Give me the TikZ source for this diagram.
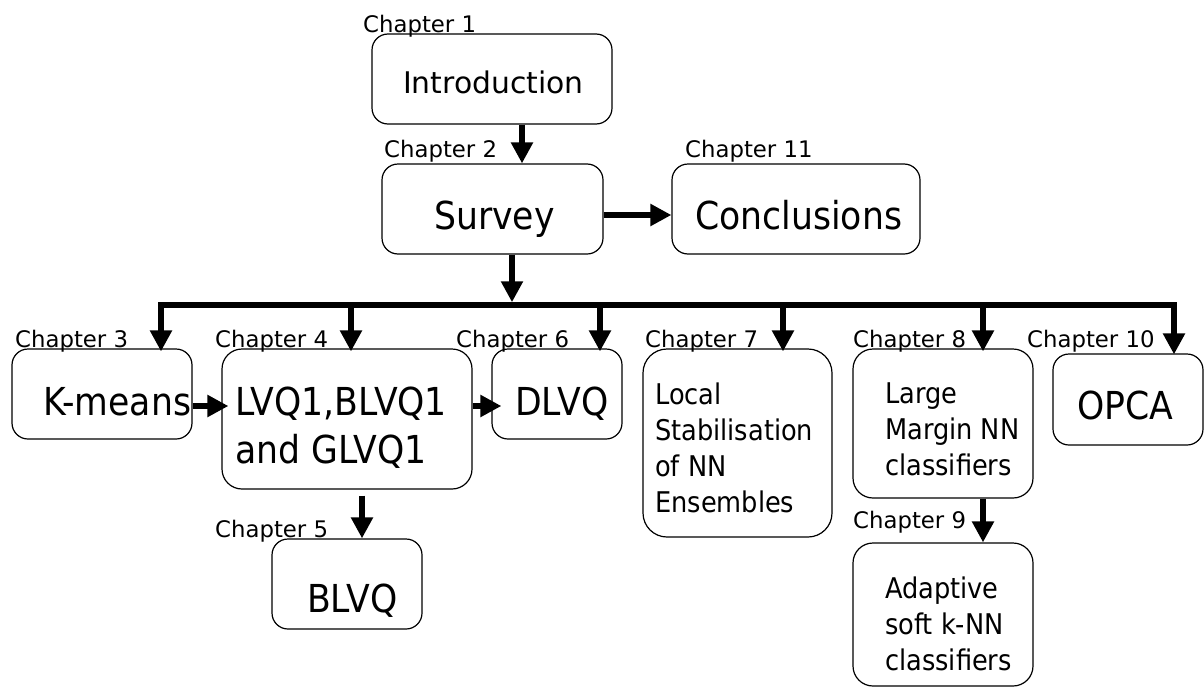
\documentclass[tikz,border=0pt]{standalone}
\usepackage{fontspec}
\setmainfont{DejaVu Sans}
\newfontfamily\cond[FakeStretch=0.9]{DejaVu Sans}
\usetikzlibrary{arrows.meta}
\newcommand{\fs}[1]{\fontsize{#1}{#1}\selectfont}
\tikzset{
  box/.style={draw, rounded corners=16pt, line width=1.2pt, inner sep=0pt},
  arr/.style={-{Triangle[width=21pt,length=21pt]}, line width=6pt},
  bus/.style={line width=5.5pt, line cap=rect},
  chap/.style={anchor=base west, inner sep=0pt, font=\fs{22.8}},
  big/.style={anchor=base west, inner sep=0pt, font=\cond\fs{38.5}},
  mid/.style={anchor=base west, inner sep=0pt, font=\cond\fs{28.5}},
}
\begin{document}
\begin{tikzpicture}[x=1pt, y=-1pt]
\useasboundingbox (0,0) rectangle (1204,688);
% boxes
\node[box, minimum width=240pt, minimum height=90pt] (intro) at (492,79) {};
\node[box, minimum width=221pt, minimum height=90pt] (survey) at (492.5,209) {};
\node[box, minimum width=248pt, minimum height=90pt] (concl) at (796,209) {};
\node[box, minimum width=180pt, minimum height=90pt] (kmeans) at (102,394) {};
\node[box, minimum width=250pt, minimum height=140pt, rounded corners=20pt] (lvq) at (347,419) {};
\node[box, minimum width=130pt, minimum height=90pt] (dlvq) at (557,394) {};
\node[box, minimum width=189pt, minimum height=188pt, rounded corners=24pt] (local) at (737.5,443) {};
\node[box, minimum width=180pt, minimum height=149pt, rounded corners=20pt] (large) at (943,423.5) {};
\node[box, minimum width=150pt, minimum height=91pt] (opca) at (1128,399.5) {};
\node[box, minimum width=150pt, minimum height=90pt] (blvq) at (347,584) {};
\node[box, minimum width=180pt, minimum height=143pt, rounded corners=20pt] (adapt) at (943,614.5) {};
% box texts
\node[anchor=base west, inner sep=0pt, font=\fs{29.8}] (tintro) at (403,93) {Introduction};
\node[big] (tsurvey) at (434,229) {Survey};
\node[big] (tconcl) at (695,229) {Conclusions};
\node[big] (tkmeans) at (43,415) {K-means};
\node[big] (tlvqa) at (235,415) {LVQ1,BLVQ1};
\node[big] (tlvqb) at (235,463) {and GLVQ1};
\node[big] (tdlvq) at (515,415) {DLVQ};
\node[big] (topca) at (1077,419) {OPCA};
\node[big] (tblvq) at (307,612) {BLVQ};
\node[mid] (tloca) at (655,404) {Local};
\node[mid] (tlocb) at (655,440) {Stabilisation};
\node[mid] (tlocc) at (655,476) {of NN};
\node[mid] (tlocd) at (655,512) {Ensembles};
\node[mid] (tlarga) at (885,403) {Large};
\node[mid] (tlargb) at (885,439) {Margin NN};
\node[mid] (tlargc) at (885,475) {classifiers};
\node[mid] (tadapa) at (885,598) {Adaptive};
\node[mid] (tadapb) at (885,634) {soft k-NN};
\node[mid] (tadapc) at (885,670) {classifiers};
% chapter labels
\node[chap] (c1) at (363,32) {Chapter 1};
\node[chap] (c2) at (384,157) {Chapter 2};
\node[chap] (c11) at (685,157) {Chapter 11};
\node[chap] (c3) at (15,347) {Chapter 3};
\node[chap] (c4) at (215,347) {Chapter 4};
\node[chap] (c6) at (456,347) {Chapter 6};
\node[chap] (c7) at (645,347) {Chapter 7};
\node[chap] (c8) at (853,347) {Chapter 8};
\node[chap] (c10) at (1027,347) {Chapter 10};
\node[chap] (c5) at (215,537) {Chapter 5};
\node[chap] (c9) at (853,528) {Chapter 9};
% bus
\coordinate (b3) at (161,305);
\coordinate (b4) at (351,305);
\coordinate (b6) at (600,305);
\coordinate (b7) at (783,305);
\coordinate (b8) at (983,305);
\coordinate (b10) at (1174,305);
\draw[bus] (b3) -- (b10);
% connectors
\draw[arr] ([xshift=30pt]intro.south) -- ([xshift=30pt]intro.south |- survey.north);
\draw[arr] ([yshift=-6pt]survey.east) -- ([yshift=-6pt]survey.east -| concl.west);
\draw[arr] ([xshift=19.5pt]survey.south) -- ([xshift=19.5pt,yshift=2.75pt]survey.south |- b3);
\draw[arr] (b3) -- ([yshift=-3pt]b3 |- kmeans.north);
\draw[arr] (b4) -- ([yshift=-3pt]b4 |- lvq.north);
\draw[arr] (b6) -- ([yshift=-3pt]b6 |- dlvq.north);
\draw[arr] (b7) -- ([yshift=-3pt]b7 |- local.north);
\draw[arr] (b8) -- ([yshift=-3pt]b8 |- large.north);
\draw[arr] (b10) -- ([yshift=-1pt]b10 |- opca.north);
\draw[arr] ([yshift=-12pt]kmeans.east) -- ([xshift=7pt,yshift=-12pt]kmeans.east -| lvq.west);
\draw[arr] ([yshift=13pt]lvq.east) -- ([xshift=10pt,yshift=13pt]lvq.east -| dlvq.west);
\draw[arr] ([xshift=15pt,yshift=-6pt]lvq.south) -- ([xshift=15pt]lvq.south |- blvq.north);
\draw[arr] ([xshift=40pt]large.south) -- ([xshift=40pt]large.south |- adapt.north);
\end{tikzpicture}
\end{document}
